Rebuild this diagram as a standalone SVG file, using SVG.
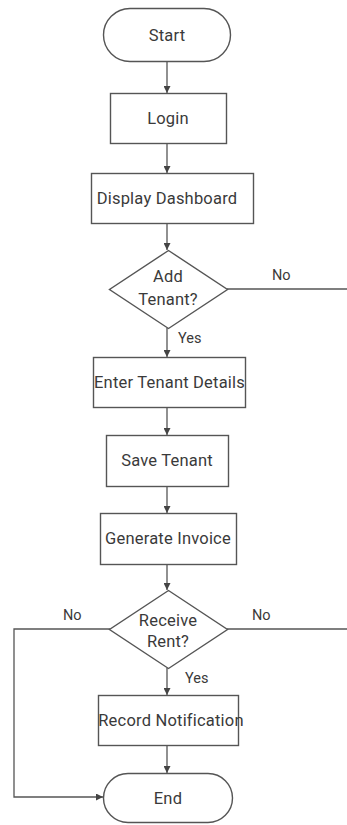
<svg xmlns="http://www.w3.org/2000/svg" width="347" height="825" viewBox="0 0 347 825">
  <style>
    .shape { fill: #ffffff; stroke: #555555; stroke-width: 1.4; }
    .label { font-family: Roboto, "Liberation Sans", sans-serif; font-size: 16.5px; fill: #3a3a3a; text-anchor: middle; dominant-baseline: central; letter-spacing: 0.2px; }
    .edge { fill: none; stroke: #555555; stroke-width: 1.3; }
    .tag { font-family: Roboto, "Liberation Sans", sans-serif; font-size: 14.5px; fill: #3a3a3a; }
  </style>
  <defs>
    <marker id="arrow" viewBox="0 0 10 10" refX="10" refY="5" markerWidth="7" markerHeight="7" orient="auto" markerUnits="userSpaceOnUse">
      <path d="M0,0 L10,5 L0,10 z" fill="#444444"/>
    </marker>
  </defs>
  <rect width="347" height="825" fill="#ffffff"/>

  <g id="connectors">
    <line class="edge" x1="167" y1="61" x2="167" y2="93" marker-end="url(#arrow)"/>
    <line class="edge" x1="167" y1="143" x2="167" y2="173" marker-end="url(#arrow)"/>
    <line class="edge" x1="167" y1="223" x2="167" y2="250" marker-end="url(#arrow)"/>
    <line class="edge" x1="227" y1="289" x2="347" y2="289"/>
    <line class="edge" x1="167" y1="328" x2="167" y2="357" marker-end="url(#arrow)"/>
    <line class="edge" x1="167" y1="407" x2="167" y2="435" marker-end="url(#arrow)"/>
    <line class="edge" x1="167" y1="486" x2="167" y2="513" marker-end="url(#arrow)"/>
    <line class="edge" x1="167" y1="564" x2="167" y2="590" marker-end="url(#arrow)"/>
    <polyline class="edge" points="110,629 14,629 14,797 103,797" marker-end="url(#arrow)"/>
    <line class="edge" x1="227" y1="629" x2="347" y2="629"/>
    <line class="edge" x1="167" y1="668" x2="167" y2="695" marker-end="url(#arrow)"/>
    <line class="edge" x1="167" y1="745" x2="167" y2="773" marker-end="url(#arrow)"/>
    <text class="tag" x="272" y="280">No</text>
    <text class="tag" x="178" y="343">Yes</text>
    <text class="tag" x="63" y="620">No</text>
    <text class="tag" x="252" y="620">No</text>
    <text class="tag" x="185" y="683">Yes</text>
  </g>

  <g id="start">
    <rect class="shape" x="103.5" y="8.5" width="127" height="53" rx="26.5"/>
    <text class="label" x="167" y="35">Start</text>
  </g>
  <g id="login">
    <rect class="shape" x="110.5" y="93.5" width="116" height="50"/>
    <text class="label" x="168" y="118">Login</text>
  </g>
  <g id="dashboard">
    <rect class="shape" x="91.5" y="173.5" width="162" height="50"/>
    <text class="label" x="167" y="198">Display Dashboard</text>
  </g>
  <g id="add-tenant">
    <polygon class="shape" points="168.5,250.5 227.5,289.5 168.5,328.5 109.5,289.5"/>
    <text class="label" x="168" y="276">Add</text>
    <text class="label" x="168" y="299">Tenant?</text>
  </g>
  <g id="enter-details">
    <rect class="shape" x="93.5" y="357.5" width="152" height="50"/>
    <text class="label" x="169.5" y="382">Enter Tenant Details</text>
  </g>
  <g id="save-tenant">
    <rect class="shape" x="106.5" y="435.5" width="122" height="51"/>
    <text class="label" x="167" y="460">Save Tenant</text>
  </g>
  <g id="generate-invoice">
    <rect class="shape" x="100.5" y="513.5" width="136" height="51"/>
    <text class="label" x="168" y="538">Generate Invoice</text>
  </g>
  <g id="receive-rent">
    <polygon class="shape" points="168.5,590.5 227.5,629.5 168.5,668.5 109.5,629.5"/>
    <text class="label" x="168" y="620">Receive</text>
    <text class="label" x="168" y="641">Rent?</text>
  </g>
  <g id="record-notification">
    <rect class="shape" x="98.5" y="695.5" width="140" height="50"/>
    <text class="label" x="171" y="720">Record Notification</text>
  </g>
  <g id="end">
    <rect class="shape" x="103.5" y="773.5" width="129" height="49" rx="24.5"/>
    <text class="label" x="168" y="798">End</text>
  </g>
</svg>
